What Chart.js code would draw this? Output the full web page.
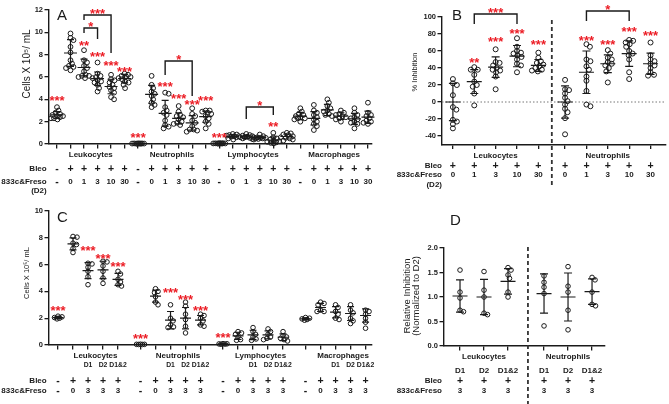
<!DOCTYPE html>
<html><head><meta charset="utf-8">
<script src="https://cdn.jsdelivr.net/npm/chart.js@4.4.0/dist/chart.umd.min.js"></script>
<style>
html,body{margin:0;padding:0;background:#fff;width:669px;height:404px;overflow:hidden}
canvas{position:absolute;display:block}
</style></head><body>
<canvas id="cA" width="380" height="200" style="left:0;top:0"></canvas>
<canvas id="cB" width="289" height="200" style="left:380px;top:0"></canvas>
<canvas id="cC" width="380" height="204" style="left:0;top:200px"></canvas>
<canvas id="cD" width="289" height="204" style="left:380px;top:200px"></canvas>
<script>
// ---------------- DATA ----------------
// Panel A
const cellTypes = ['Leukocytes','Neutrophils','Lymphocytes','Macrophages'];
const bleoA = ['-','+','+','+','+','+'];
const doseA = ['-','0','1','3','10','30'];
const yTicksA = [0,2,4,6,8,10,12];
const pointsA = [
  [3.3,3.0,2.8,2.7,2.6,2.5,2.5,2.4,2.3,2.2,2.3],
  [9.9,9.5,9.3,8.7,8.2,7.5,7.2,7.0,6.9,6.8,6.6],
  [8.4,7.5,7.3,7.0,6.8,6.5,6.2,6.1,6.1,6.0,5.9],
  [7.3,6.3,6.1,6.0,5.9,5.7,5.6,5.5,5.3,5.0,4.7],
  [6.2,5.8,5.7,5.5,5.3,5.1,5.0,4.8,4.6,4.2,4.0],
  [6.3,6.2,6.1,6.0,6.0,5.9,5.8,5.6,5.5,5.3,5.0],
  [0.06,0.05,0.04,0.03,0.05,0.04,0.03,0.02,0.05,0.04],
  [6.1,5.3,5.0,4.7,4.5,4.3,4.0,3.7,3.5,3.3],
  [4.6,4.5,3.3,3.0,2.8,2.6,2.1,1.7,1.55,1.4],
  [3.4,2.9,2.6,2.5,2.4,2.2,2.0,1.9,1.8,1.7],
  [3.2,2.7,2.5,2.1,1.9,1.6,1.3,1.3,1.2,1.1],
  [3.0,3.0,2.9,2.8,2.7,2.5,2.3,2.0,1.8,1.4],
  [0.08,0.06,0.05,0.04,0.06,0.05,0.03,0.07,0.04,0.05],
  [0.9,0.85,0.8,0.75,0.7,0.7,0.65,0.6,0.5,0.4],
  [0.9,0.8,0.75,0.7,0.65,0.6,0.55,0.5,0.45,0.6],
  [0.85,0.7,0.6,0.55,0.5,0.5,0.45,0.4,0.6,0.55],
  [1.0,0.6,0.5,0.4,0.3,0.25,0.2,0.15,0.1,0.05],
  [1.0,0.95,0.85,0.8,0.7,0.6,0.55,0.5,0.4,0.3],
  [3.2,2.9,2.7,2.6,2.5,2.4,2.3,2.3,2.2,2.0],
  [3.5,3.0,2.8,2.6,2.4,2.2,2.0,1.8,1.6,1.25],
  [4.0,3.7,3.4,3.2,3.0,2.9,2.7,2.6,2.5],
  [3.0,2.8,2.7,2.6,2.5,2.4,2.3,2.2,2.0],
  [3.2,2.8,2.6,2.4,2.3,2.2,2.0,1.9,1.8,1.4],
  [3.7,2.8,2.6,2.5,2.3,2.1,2.0,1.9,1.8]
];
const meanA = [2.6,8.15,6.85,5.85,5.15,5.85, 0.04,4.45,2.75,2.3,1.9,2.45, 0.05,0.69,0.65,0.57,0.36,0.67, 2.5,2.3,3.05,2.5,2.25,2.4];
const sdA   = [0.3,1.2,0.75,0.6,0.65,0.38, 0.01,0.8,1.15,0.5,0.65,0.5, 0.015,0.15,0.14,0.12,0.28,0.22, 0.33,0.6,0.5,0.3,0.5,0.55];
const sigA  = ['***','','**','***','***','***', '***','','***','***','***','***', '***','','','','**','', '','','','','',''];
const sigLevelA = [4.21,0,9.13,8.15,7.34,6.8, 0.9,0,5.46,4.39,3.79,4.21, 0.9,0,0,0,1.88,0, 0,0,0,0,0,0];
const bracketsA = [
  {a:2, b:3, top:10.39, endA:9.94, endB:9.4, label:'*'},
  {a:2, b:4, top:11.55, endA:11.1, endB:8.15, label:'***'},
  {a:8, b:10, top:7.43, endA:6.18, endB:4.3, label:'*'},
  {a:14, b:16, top:3.31, endA:2.24, endB:2.6, label:'*'}
];

// Panel B
const groupsB = ['Leukocytes','Neutrophils'];
const doseB = ['0','1','3','10','30'];
const yTicksB = [-40,-20,0,20,40,60,80,100];
const pointsB = [
  [27,22,20,8,-6,-9,-21,-23,-26,-31],
  [41,38,38,32,24,20,18,10,-4],
  [62,47,46,43,40,38,37,35,30,15],
  [75,65,60,58,57,55,53,50,45,43,35],
  [58,52,48,46,44,42,40,38,37,36],
  [26,15,14,10,5,1,-3,-8,-12,-19,-38],
  [68,65,50,48,42,38,30,25,13,-3,-5],
  [61,57,52,50,47,45,43,40,36,23],
  [73,72,70,68,65,60,57,55,50,35,27],
  [70,55,50,48,45,43,40,35,32,31]
];
const meanB = [0,24,41,54,43, 0,35,45,57,45];
const sdB   = [22,14,12,12.5,7, 19,25,10.5,15,12.5];
const sigB  = ['','**','***','***','***', '','***','***','***','***'];
const sigLevelB = [0,50.6,75.3,84.7,71.8, 0,76.5,71.8,87,82.4];
const bracketsB = [
  {a:1, b:3, top:103.5, endA:91.8, endB:91.8, label:'***'},
  {a:6, b:8, top:107, endA:95.3, endB:95.3, label:'*'}
];

// Panel C
const bleoC = ['-','+','+','+','+'];
const doseC = ['-','0','3','3','3'];
const dayC  = ['','','D1','D2','D1&2'];
const yTicksC = [0,2,4,6,8,10];
const pointsC = [
  [2.15,2.1,2.05,2.0,1.95],
  [8.1,8.05,7.6,7.5,7.2,6.9],
  [6.1,6.05,5.8,5.5,5.1,4.5],
  [6.25,6.2,5.9,5.5,5.0,4.6],
  [5.5,5.3,4.9,4.7,4.5,4.4],
  [0.05,0.04,0.06,0.05,0.04],
  [4.2,4.0,3.9,3.6,3.2,3.0],
  [3.0,2.0,1.8,1.5,1.35,1.3],
  [3.2,2.9,2.3,1.9,1.4,0.9],
  [2.3,2.2,2.0,1.8,1.5,1.4],
  [0.1,0.09,0.08,0.07,0.06],
  [1.0,0.9,0.8,0.6,0.4,0.35],
  [1.3,1.0,0.8,0.6,0.45,0.35],
  [1.2,1.0,0.8,0.6,0.5,0.4],
  [1.0,0.7,0.6,0.5,0.4,0.3],
  [2.05,2.0,1.95,1.9,1.85],
  [3.2,3.1,3.0,2.6,2.5,2.5],
  [3.0,2.8,2.5,2.3,2.0,1.9],
  [3.0,2.6,2.4,2.0,1.8,1.6],
  [2.6,2.5,2.3,2.0,1.7,1.25]
];
const meanC = [2.05,7.55,5.55,5.6,4.9, 0.05,3.65,1.85,2.0,1.85, 0.08,0.68,0.75,0.75,0.58, 1.95,2.8,2.45,2.35,2.2];
const sdC   = [0.08,0.45,0.6,0.65,0.45, 0.01,0.45,0.65,0.8,0.35, 0.02,0.27,0.35,0.3,0.25, 0.08,0.3,0.42,0.52,0.5];
const sigC  = ['***','','***','***','***', '***','','***','***','***', '***','','','','', '','','','',''];
const sigLevelC = [2.84,0,7.31,6.72,6.1, 0.75,0,4.16,3.6,2.81, 0.82,0,0,0,0, 0,0,0,0,0];

// Panel D
const groupsD = ['Leukocytes','Neutrophils'];
const dayD = ['D1','D2','D1&2'];
const doseD = ['3','3','3'];
const yTicksD = [0,0.5,1,1.5,2];
const pointsD = [
  [1.55,1.1,0.98,0.73,0.7],
  [1.52,1.14,1.0,0.67,0.64],
  [1.6,1.55,1.45,1.38,1.1,1.0],
  [1.43,1.3,1.2,1.07,0.41],
  [1.62,1.22,1.1,0.73,0.33],
  [1.4,1.35,1.1,0.85,0.82]
];
const meanD = [1.02,1.0,1.32, 1.07,1.0,1.11];
const sdD   = [0.33,0.36,0.26, 0.4,0.49,0.26];

// ---------------- DRAWING ----------------
const FONT = '"Liberation Sans", Arial, Helvetica, sans-serif';
const INK = '#1a1a1a';
const RED = '#ec1c24';

function swarm(vals, pxX, pxY, d, maxOff) {
  const order = vals.map((v,i)=>i).sort((a,b)=>vals[b]-vals[a]);
  const placed = [], out = new Array(vals.length).fill(0);
  const cands = [0];
  for (let s=0.5; s<=maxOff+1e-9; s+=0.5) cands.push(s,-s);
  for (const i of order) {
    const yy = vals[i]*pxY;
    let best = 0, bestScore = -1;
    for (const c of cands) {
      let md = Infinity;
      for (const p of placed) { const dd = Math.hypot(p.x-c, p.y-yy); if (dd<md) md = dd; }
      if (md >= d) { best = c; break; }
      if (md > bestScore) { bestScore = md; best = c; }
    }
    placed.push({x:best, y:yy}); out[i] = best/pxX;
  }
  return out;
}

function txt(c, s, x, y, size, o={}) {
  c.save();
  c.font = (o.weight||'bold') + ' ' + size + 'px ' + FONT;
  c.fillStyle = o.color || INK;
  c.textAlign = o.align || 'center';
  c.textBaseline = o.baseline || 'middle';
  if (o.rot) { c.translate(x,y); c.rotate(o.rot); c.fillText(s,0,0); }
  else c.fillText(s, x, y);
  c.restore();
}
function stars(c, s, cx, cy) {
  txt(c, s, cx, cy + 7.6, 13, {color:RED, baseline:'alphabetic'});
}
function cellText(c, s, x, y) {
  if (s === '+' || s === '-') txt(c, s, x, y, 10.5);
  else txt(c, s, x, y, 8);
}

function panel(o) {
  const pxX = (o.area.r - o.area.l)/(o.xMax - o.xMin);
  const pxY = (o.area.b - o.area.t)/(o.yMax - o.yMin);
  const data = [];
  o.points.forEach((vals,i) => {
    const off = swarm(vals, pxX, pxY, o.d, o.maxOff);
    vals.forEach((v,j) => data.push({x:o.pos[i] + off[j], y:v}));
  });
  const decor = {
    id:'decor',
    beforeDatasetsDraw(chart) {
      if (o.before) o.before(chart, chart.ctx, chart.scales.x, chart.scales.y);
    },
    afterDatasetsDraw(chart) {
      const c = chart.ctx, X = chart.scales.x, Y = chart.scales.y;
      c.save();
      c.strokeStyle = INK; c.lineWidth = 1.2;
      o.means.forEach((m,i) => {
        const px = X.getPixelForValue(o.pos[i]);
        const pm = Y.getPixelForValue(m), pt = Y.getPixelForValue(m+o.sds[i]), pb = Y.getPixelForValue(m-o.sds[i]);
        c.beginPath();
        c.moveTo(px,pt); c.lineTo(px,pb);
        c.moveTo(px-o.capHalf,pt); c.lineTo(px+o.capHalf,pt);
        c.moveTo(px-o.capHalf,pb); c.lineTo(px+o.capHalf,pb);
        c.moveTo(px-o.meanHalf,pm); c.lineTo(px+o.meanHalf,pm);
        c.stroke();
      });
      c.restore();
      // significance stars
      (o.sig||[]).forEach((s,i) => {
        if (!s) return;
        stars(c, s, X.getPixelForValue(o.pos[i]), Y.getPixelForValue(o.sigLevel[i]));
      });
      // brackets
      (o.brackets||[]).forEach(b => {
        const xa = X.getPixelForValue(o.pos[b.a]), xb = X.getPixelForValue(o.pos[b.b]);
        const yt = Y.getPixelForValue(b.top);
        c.save(); c.strokeStyle = INK; c.lineWidth = 1.4;
        c.beginPath();
        c.moveTo(xa, Y.getPixelForValue(b.endA)); c.lineTo(xa, yt); c.lineTo(xb, yt); c.lineTo(xb, Y.getPixelForValue(b.endB));
        c.stroke(); c.restore();
        stars(c, b.label, (xa+xb)/2, yt - 5);
      });
      if (o.after) o.after(chart, c, X, Y);
    }
  };
  const axisCommon = {
    grid:{display:true, drawOnChartArea:false, drawTicks:true, tickLength:4.5, color:INK, tickColor:INK, lineWidth:1.3, tickWidth:1.3},
    border:{display:true, color:INK, width:1.4}
  };
  return new Chart(document.getElementById(o.id), {
    type:'scatter',
    data:{datasets:[{data, showLine:false, clip:false,
      pointRadius:o.r, pointHoverRadius:o.r, pointBorderWidth:1, pointBorderColor:INK,
      pointBackgroundColor:'rgba(255,255,255,0)'}]},
    options:{
      responsive:false, animation:false, devicePixelRatio:1, events:[],
      layout:{padding:{top:o.area.t, right:o.W - o.area.r, bottom:0, left:0}},
      plugins:{legend:{display:false}, tooltip:{enabled:false}},
      scales:{
        x:Object.assign({}, axisCommon, {type:'linear', min:o.xMin, max:o.xMax,
          afterBuildTicks:s => { s.ticks = o.pos.map(v => ({value:v})); },
          afterFit:s => { s.height = o.H - o.area.b; },
          ticks:{display:false}}),
        y:Object.assign({}, axisCommon, {type:'linear', min:o.yMin, max:o.yMax,
          afterBuildTicks:s => { s.ticks = o.yTicks.map(v => ({value:v})); },
          afterFit:s => { s.width = o.area.l; },
          ticks:{autoSkip:false, padding:1.5, color:INK, font:{family:FONT, size:7.5, weight:'bold'},
                 callback:o.yFmt || (v => String(v))}})
      }
    },
    plugins:[decor]
  });
}

// ---- Panel A ----
const posA = []; for (let g=0; g<4; g++) for (let m=0; m<6; m++) posA.push(g*6+m);
panel({
  id:'cA', W:380, H:200, area:{l:49, r:372, t:10, b:144},
  xMin:-0.59, xMax:23.3, yMin:0, yMax:12, yTicks:yTicksA,
  pos:posA, points:pointsA, means:meanA, sds:sdA, sig:sigA, sigLevel:sigLevelA, brackets:bracketsA,
  r:2.4, d:3.6, maxOff:6, meanHalf:6.5, capHalf:3.5,
  after(ch, c, X, Y) {
    cellTypes.forEach((n,g) => txt(c, n, X.getPixelForValue(g*6+2.5), 155, 8));
    txt(c, 'Bleo', 46.7, 169, 8, {align:'right'});
    txt(c, '833c&Freso', 46.7, 182, 8, {align:'right'});
    txt(c, '(D2)', 46.7, 191, 8, {align:'right'});
    posA.forEach((p,i) => { cellText(c, bleoA[i%6], X.getPixelForValue(p), 169); cellText(c, doseA[i%6], X.getPixelForValue(p), 182); });
    txt(c, 'Cells X 10⁵/ mL', 27, 64, 10, {weight:'normal', rot:-Math.PI/2});
    txt(c, 'A', 57, 20, 15, {weight:'normal', align:'left', baseline:'alphabetic'});
  }
});

// ---- Panel B ----
const posB = [0,1,2,3,4,5.25,6.25,7.25,8.25,9.25];
panel({
  id:'cB', W:289, H:200, area:{l:62, r:288, t:17, b:144.5},
  xMin:-0.51, xMax:9.95, yMin:-50, yMax:100, yTicks:yTicksB,
  pos:posB, points:pointsB, means:meanB, sds:sdB, sig:sigB, sigLevel:sigLevelB, brackets:bracketsB,
  r:2.5, d:4, maxOff:8, meanHalf:7.5, capHalf:4,
  before(ch, c, X, Y) {
    const y0 = Y.getPixelForValue(0);
    c.save(); c.strokeStyle = '#777'; c.lineWidth = 1; c.setLineDash([1.5,2]);
    c.beginPath(); c.moveTo(X.left, y0); c.lineTo(X.right, y0); c.stroke(); c.restore();
  },
  after(ch, c, X, Y) {
    const xd = X.getPixelForValue(4.63);
    c.save(); c.strokeStyle = '#333'; c.lineWidth = 1.8; c.setLineDash([4,3]);
    c.beginPath(); c.moveTo(xd, 20); c.lineTo(xd, 188); c.stroke(); c.restore();
    groupsB.forEach((n,g) => txt(c, n, X.getPixelForValue(g*5.25+2), 156, 8));
    txt(c, 'Bleo', 62, 166, 8, {align:'right'});
    txt(c, '833c&Freso', 62, 175, 8, {align:'right'});
    txt(c, '(D2)', 62, 185, 8, {align:'right'});
    posB.forEach((p,i) => { cellText(c, '+', X.getPixelForValue(p), 166); cellText(c, doseB[i%5], X.getPixelForValue(p), 175); });
    txt(c, '% Inhibition', 35, 72, 7.5, {weight:'normal', rot:-Math.PI/2});
    txt(c, 'B', 72, 20, 15, {weight:'normal', align:'left', baseline:'alphabetic'});
  }
});

// ---- Panel C ----
const posC = []; for (let g=0; g<4; g++) for (let m=0; m<5; m++) posC.push(g*5.5+m);
panel({
  id:'cC', W:380, H:204, area:{l:49, r:372, t:11, b:145},
  xMin:-0.6, xMax:20.93, yMin:0, yMax:10, yTicks:yTicksC,
  pos:posC, points:pointsC, means:meanC, sds:sdC, sig:sigC, sigLevel:sigLevelC,
  r:2.3, d:3.6, maxOff:5, meanHalf:5.5, capHalf:3.5,
  after(ch, c, X, Y) {
    cellTypes.forEach((n,g) => {
      txt(c, n, X.getPixelForValue(g*5.5+2.5), 156, 8);
      [2,3,4].forEach(m => txt(c, dayC[m], X.getPixelForValue(g*5.5+m), 165, 6.8));
    });
    txt(c, 'Bleo', 46.7, 181, 8, {align:'right'});
    txt(c, '833c&Freso', 46.7, 191, 8, {align:'right'});
    posC.forEach((p,i) => { cellText(c, bleoC[i%5], X.getPixelForValue(p), 181); cellText(c, doseC[i%5], X.getPixelForValue(p), 191); });
    txt(c, 'Cells X 10⁵/ mL', 27, 73, 7.5, {weight:'normal', rot:-Math.PI/2});
    txt(c, 'C', 57, 22, 15, {weight:'normal', align:'left', baseline:'alphabetic'});
  }
});

// ---- Panel D ----
const posD = [0,1,2,3.5,4.5,5.5];
panel({
  id:'cD', W:289, H:204, area:{l:64, r:225, t:48, b:146},
  xMin:-0.667, xMax:6.04, yMin:0, yMax:2, yTicks:yTicksD, yFmt:v => v.toFixed(1),
  pos:posD, points:pointsD, means:meanD, sds:sdD,
  r:2.3, d:3.6, maxOff:5, meanHalf:7.5, capHalf:4,
  after(ch, c, X, Y) {
    const xd = X.getPixelForValue(2.83);
    c.save(); c.strokeStyle = '#333'; c.lineWidth = 1.8; c.setLineDash([4,3]);
    c.beginPath(); c.moveTo(xd, 47); c.lineTo(xd, 204); c.stroke(); c.restore();
    groupsD.forEach((n,g) => {
      txt(c, n, X.getPixelForValue(g*3.5+1), 157, 8);
      [0,1,2].forEach(m => {
        const px = X.getPixelForValue(g*3.5+m);
        txt(c, dayD[m], px, 171, 8);
        cellText(c, '+', px, 181);
        cellText(c, doseD[m], px, 191);
      });
    });
    txt(c, 'Bleo', 62, 181, 8, {align:'right'});
    txt(c, '833c&Freso', 62, 191, 8, {align:'right'});
    txt(c, 'Relative Inhibition', 27, 96, 9.5, {weight:'normal', rot:-Math.PI/2});
    txt(c, '(Normalized to D2)', 36, 96, 9.5, {weight:'normal', rot:-Math.PI/2});
    txt(c, 'D', 70, 25, 15, {weight:'normal', align:'left', baseline:'alphabetic'});
  }
});
</script>
</body></html>
